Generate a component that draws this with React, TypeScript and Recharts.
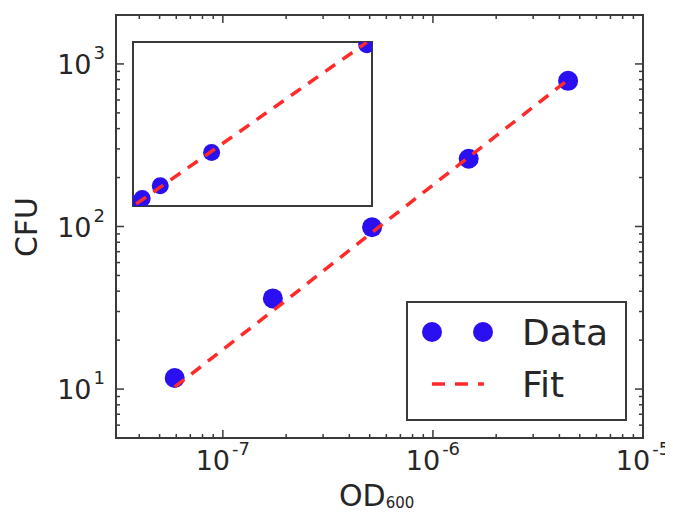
import React from 'react';
import { ScatterChart, Scatter, XAxis, YAxis, ReferenceArea, Label } from 'recharts';

// ---------- data ----------
const odValues = [5.9e-8, 1.73e-7, 5.13e-7, 1.48e-6, 4.4e-6];
const cfuValues = [11.7, 36.1, 99, 261, 787];
const fitValues = [10.3, 30.3, 91.9, 267, 798];

const xMajorTicks = [1e-7, 1e-6, 1e-5];
const xMajorLabels = ['-7', '-6', '-5'];
const yMajorTicks = [10, 100, 1000];
const yMajorLabels = ['1', '2', '3'];
const minorMantissas = [2, 3, 4, 5, 6, 7, 8, 9];
const xDecades = [1e-8, 1e-7, 1e-6];
const yDecades = [1, 10, 100, 1000];

const X_DOMAIN: [number, number] = [3.1e-8, 1e-5];
const Y_DOMAIN: [number, number] = [5, 2000];
const INSET_X_DOMAIN: [number, number] = [0, 4.5e-6];
const INSET_Y_DOMAIN: [number, number] = [0, 800];

const seriesLabels = ['Data', 'Fit'];
const xAxisTitle = 'OD';
const xAxisSub = '600';
const yAxisTitle = 'CFU';

// ---------- derived tables ----------
const dataPts = odValues.map((x, i) => ({ x, y: cfuValues[i] }));
const fitPts = odValues.map((x, i) => ({ x, y: fitValues[i] }));
const xMinor = xDecades
  .flatMap((d) => minorMantissas.map((m) => m * d))
  .filter((v) => v > X_DOMAIN[0] && v < X_DOMAIN[1]);
const yMinor = yDecades
  .flatMap((d) => minorMantissas.map((m) => m * d))
  .filter((v) => v > Y_DOMAIN[0] && v < Y_DOMAIN[1]);
const xTicks = [...xMajorTicks, ...xMinor];
const yTicks = [...yMajorTicks, ...yMinor];

// ---------- styles / layout ----------
const W = 665;
const H = 506;
const PL = 108;
const PT = 7;
const PR = 635;
const PB = 430;
const FONT = '"DejaVu Sans", sans-serif';
const TEXT = '#262626';
const FRAME = '#3a3a3a';
const BLUE = '#2a0ff0';
const RED = '#ff2a2a';

const findIdx = (arr: number[], v: number) => arr.findIndex((t) => Math.abs(t - v) / t < 1e-6);

const XTick = (props: any) => {
  const { x, payload } = props;
  const idx = findIdx(xMajorTicks, payload.value);
  const major = idx >= 0;
  const len = major ? 8 : 4;
  return (
    <g>
      <line x1={x} x2={x} y1={PB} y2={PB - len} stroke={FRAME} strokeWidth={1.5} />
      <line x1={x} x2={x} y1={PT} y2={PT + len} stroke={FRAME} strokeWidth={1.5} />
      {major && (
        <text x={x} y={PB + 32} textAnchor="middle" fontSize={27} fill={TEXT} fontFamily={FONT}>
          10
          <tspan dx={2} dy={-15} fontSize={18}>
            {xMajorLabels[idx]}
          </tspan>
        </text>
      )}
    </g>
  );
};

const YTick = (props: any) => {
  const { y, payload } = props;
  const idx = findIdx(yMajorTicks, payload.value);
  const major = idx >= 0;
  const len = major ? 8 : 4;
  return (
    <g>
      <line x1={PL} x2={PL + len} y1={y} y2={y} stroke={FRAME} strokeWidth={1.5} />
      <line x1={PR} x2={PR - len} y1={y} y2={y} stroke={FRAME} strokeWidth={1.5} />
      {major && (
        <text x={97} y={y + 10} textAnchor="end" fontSize={27} fill={TEXT} fontFamily={FONT}>
          10
          <tspan dx={2} dy={-15} fontSize={18}>
            {yMajorLabels[idx]}
          </tspan>
        </text>
      )}
    </g>
  );
};

const mainDot = (p: any) => <circle cx={p.cx} cy={p.cy} r={10} fill={BLUE} />;
const insetDot = (p: any) => <circle cx={p.cx} cy={p.cy} r={8.5} fill={BLUE} />;
const noDot = () => <g />;

export default function App() {
  return (
    <div style={{ position: 'relative', width: W, height: H }}>
      <ScatterChart width={W} height={H} margin={{ top: PT, right: W - PR, left: 8, bottom: 36 }}>
        <XAxis
          type="number"
          dataKey="x"
          scale="log"
          domain={X_DOMAIN}
          allowDataOverflow
          ticks={xTicks}
          interval={0}
          tick={(p: any) => <XTick {...p} />}
          tickLine={false}
          axisLine={false}
          tickSize={0}
          tickMargin={0}
          height={40}
        >
          <Label
            content={() => (
              <text x={331} y={498} fontSize={30} fill={TEXT} fontFamily={FONT}>
                {xAxisTitle}
                <tspan dy={2} fontSize={15}>
                  {xAxisSub}
                </tspan>
              </text>
            )}
          />
        </XAxis>
        <YAxis
          type="number"
          dataKey="y"
          scale="log"
          domain={Y_DOMAIN}
          allowDataOverflow
          ticks={yTicks}
          interval={0}
          tick={(p: any) => <YTick {...p} />}
          tickLine={false}
          axisLine={false}
          tickSize={0}
          tickMargin={0}
          width={100}
        >
          <Label
            content={() => (
              <text
                x={29}
                y={219}
                transform="rotate(-90, 29, 219)"
                textAnchor="middle"
                fontSize={30}
                fill={TEXT}
                fontFamily={FONT}
              >
                {yAxisTitle}
              </text>
            )}
          />
        </YAxis>
        <ReferenceArea
          x1={X_DOMAIN[0]}
          x2={X_DOMAIN[1]}
          y1={Y_DOMAIN[0]}
          y2={Y_DOMAIN[1]}
          fill="none"
          fillOpacity={0}
          stroke={FRAME}
          strokeWidth={2}
          ifOverflow="visible"
        />
        <Scatter name={seriesLabels[0]} data={dataPts} fill={BLUE} shape={mainDot} isAnimationActive={false} />
        <Scatter
          name={seriesLabels[1]}
          data={fitPts}
          fill={RED}
          shape={noDot}
          line={{ stroke: RED, strokeWidth: 3.5, strokeDasharray: '12 9' }}
          isAnimationActive={false}
        />
      </ScatterChart>

      <div style={{ position: 'absolute', left: 113, top: 22 }}>
        <ScatterChart width={263} height={188} margin={{ top: 12, right: 12, left: 12, bottom: 12 }}>
          <XAxis type="number" dataKey="x" domain={INSET_X_DOMAIN} allowDataOverflow hide />
          <YAxis type="number" dataKey="y" domain={INSET_Y_DOMAIN} allowDataOverflow hide />
          <ReferenceArea
            x1={INSET_X_DOMAIN[0]}
            x2={INSET_X_DOMAIN[1]}
            y1={INSET_Y_DOMAIN[0]}
            y2={INSET_Y_DOMAIN[1]}
            fill="none"
            fillOpacity={0}
            stroke={FRAME}
            strokeWidth={2}
            ifOverflow="visible"
          />
          <Scatter data={dataPts} fill={BLUE} shape={insetDot} isAnimationActive={false} />
          <Scatter
            data={fitPts}
            fill={RED}
            shape={noDot}
            line={{ stroke: RED, strokeWidth: 3.5, strokeDasharray: '12 9' }}
            isAnimationActive={false}
          />
        </ScatterChart>
      </div>

      <svg width={W} height={H} style={{ position: 'absolute', left: 0, top: 0, pointerEvents: 'none' }}>
        <rect x={399} y={294} width={219} height={118} fill="#fff" stroke={FRAME} strokeWidth={2} />
        <circle cx={424} cy={324} r={10} fill={BLUE} />
        <circle cx={475} cy={324} r={10} fill={BLUE} />
        <text x={514} y={337} fontSize={36} fill={TEXT} fontFamily={FONT}>
          {seriesLabels[0]}
        </text>
        <line x1={424} x2={476} y1={376} y2={376} stroke={RED} strokeWidth={3.5} strokeDasharray="13 10" />
        <text x={514} y={389} fontSize={36} fill={TEXT} fontFamily={FONT}>
          {seriesLabels[1]}
        </text>
      </svg>
    </div>
  );
}
